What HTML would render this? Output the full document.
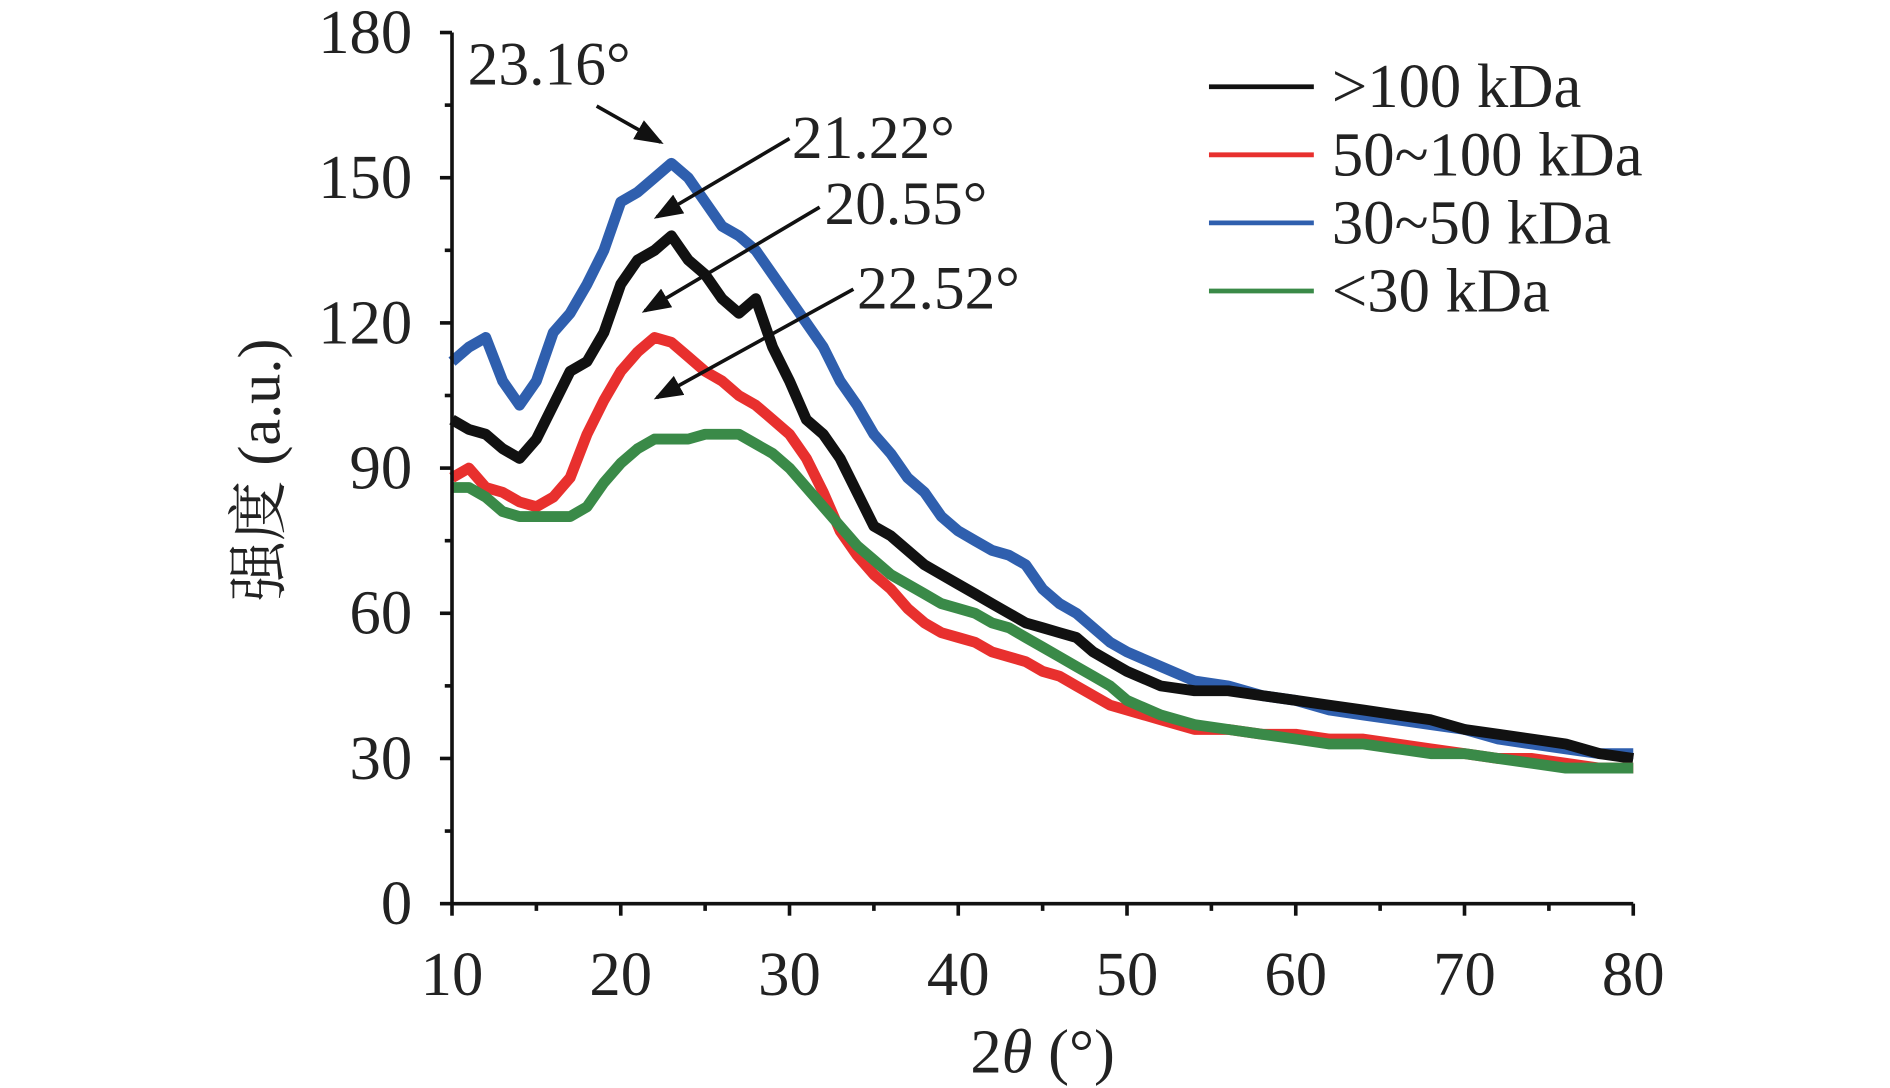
<!DOCTYPE html>
<html><head><meta charset="utf-8"><style>
html,body{margin:0;padding:0;background:#fff;}
svg{display:block;}
text{font-family:"Liberation Serif","Noto Serif CJK SC",serif;fill:#222;}
</style></head><body>
<svg id="chart" width="1890" height="1088" viewBox="0 0 1568 903" preserveAspectRatio="none" xmlns="http://www.w3.org/2000/svg">
<g id="series"></g>
<g id="axes"></g>
<g id="annot">
<text x="388" y="70" font-size="51">23.16°</text>
<text x="657" y="131" font-size="51">21.22°</text>
<text x="684" y="186" font-size="51">20.55°</text>
<text x="711" y="256" font-size="51">22.52°</text>
</g>
<g id="legend"></g>
<text x="865" y="890" font-size="52" text-anchor="middle">2<tspan font-style="italic">θ</tspan> (°)</text>
<text transform="translate(232,390) rotate(-90)" font-size="50" text-anchor="middle">强度 (a.u.)</text>
</svg>
<script>
const xs=[10,11,12,13,14,15,16,17,18,19,20,21,22,23,24,25,26,27,28,29,30,31,32,33,34,35,36,37,38,39,40,41,42,43,44,45,46,47,48,49,50,52,54,56,58,60,62,64,66,68,70,72,74,76,78,80];
const blackVals=[100,98,97,94,92,96,103,110,112,118,128,133,135,138,133,130,125,122,125,115,108,100,97,92,85,78,76,73,70,68,66,64,62,60,58,57,56,55,52,50,48,45,44,44,43,42,41,40,39,38,36,35,34,33,31,30];
const redVals=[88,90,86,85,83,82,84,88,97,104,110,114,117,116,113,110,108,105,103,100,97,92,85,77,72,68,65,61,58,56,55,54,52,51,50,48,47,45,43,41,40,38,36,36,35,35,34,34,33,32,31,30,30,29,28,28];
const blueVals=[112,115,117,108,103,108,118,122,128,135,145,147,150,153,150,145,140,138,135,130,125,120,115,108,103,97,93,88,85,80,77,75,73,72,70,65,62,60,57,54,52,49,46,45,43,42,40,39,38,37,36,34,33,32,31,31];
const greenVals=[86,86,84,81,80,80,80,80,82,87,91,94,96,96,96,97,97,97,95,93,90,86,82,78,74,71,68,66,64,62,61,60,58,57,55,53,51,49,47,45,42,39,37,36,35,34,33,33,32,31,31,30,29,28,28,28];
const seriesNames=[">100 kDa","50~100 kDa","30~50 kDa","<30 kDa"];
const xTicks=[10,20,30,40,50,60,70,80];
const yTicks=[0,30,60,90,120,150,180];
const NS="http://www.w3.org/2000/svg";
const X0=375,X1=1355,Y0=750,Y1=27;
const sx=v=>X0+(v-10)/70*(X1-X0);
const sy=v=>Y0-(v/180)*(Y0-Y1);
function mk(tag,attrs,parent){const e=document.createElementNS(NS,tag);for(const k in attrs)e.setAttribute(k,attrs[k]);parent.appendChild(e);return e;}
const sg=document.getElementById('series');
const defs=[[blackVals,'#111111','series-gt100'],[redVals,'#e8302e','series-50-100'],[blueVals,'#2f5fae','series-30-50'],[greenVals,'#3a8a48','series-lt30']];
const order=[2,0,1,3];
order.forEach(i=>{const [vals,col,nm]=defs[i];
 const d=vals.map((v,j)=>(j?'L':'M')+sx(xs[j]).toFixed(1)+','+sy(v).toFixed(1)).join(' ');
 const p=mk('path',{d:d,fill:'none',stroke:col,'stroke-width':9,'stroke-linejoin':'round'},sg);
 
 
});
const ag=document.getElementById('axes');
mk('line',{x1:X0,y1:Y1,x2:X0,y2:Y0,stroke:'#111','stroke-width':3},ag);
mk('line',{x1:X0,y1:Y0,x2:X1,y2:Y0,stroke:'#111','stroke-width':3},ag);
xTicks.forEach(t=>{mk('line',{x1:sx(t),y1:Y0,x2:sx(t),y2:Y0+10,stroke:'#111','stroke-width':3},ag);
 const tx=mk('text',{x:sx(t),y:826,'font-size':52,'text-anchor':'middle'},ag);tx.textContent=t;
 
 
 if(t<80)mk('line',{x1:sx(t+5),y1:Y0,x2:sx(t+5),y2:Y0+6,stroke:'#111','stroke-width':3},ag);});
yTicks.forEach(t=>{mk('line',{x1:X0-10,y1:sy(t),x2:X0,y2:sy(t),stroke:'#111','stroke-width':3},ag);
 const tx=mk('text',{x:342,y:sy(t)+17,'font-size':52,'text-anchor':'end'},ag);tx.textContent=t;
 
 
 if(t<180)mk('line',{x1:X0-6,y1:sy(t+15),x2:X0,y2:sy(t+15),stroke:'#111','stroke-width':3},ag);});
const an=document.getElementById('annot');
mk('defs',{},an).innerHTML='<marker id="ah" markerWidth="8" markerHeight="8" refX="7" refY="4" orient="auto" markerUnits="strokeWidth"><path d="M0,1 L8,4 L0,7 z" fill="#111"/></marker>';
[[495,88,548,118],[655,115,545,180],[680,172,535,258],[708,240,545,330]].forEach(a=>{
 const l=mk('line',{x1:a[0],y1:a[1],x2:a[2],y2:a[3],stroke:'#111','stroke-width':3,'marker-end':'url(#ah)'},an);
 
 });
const lg=document.getElementById('legend');
const lcols=['#111111','#e8302e','#2f5fae','#3a8a48'];
seriesNames.forEach((n,i)=>{const y=72+i*56.5;
 const l=mk('line',{x1:1003,y1:y,x2:1090,y2:y,stroke:lcols[i],'stroke-width':4},lg);
 
 
 const t=mk('text',{x:1105,y:y+17,'font-size':52},lg);t.textContent=n;
 
 });
</script>
</body></html>
